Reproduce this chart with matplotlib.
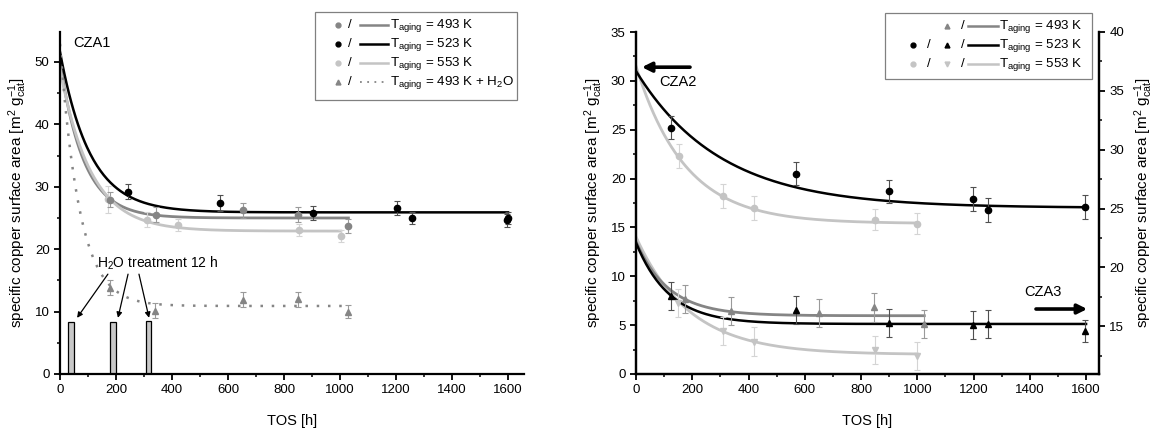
import numpy as np
import matplotlib
matplotlib.use("Agg")
import matplotlib.pyplot as plt
from matplotlib.lines import Line2D
from matplotlib.ticker import MultipleLocator

plt.rcParams['font.family'] = ['Liberation Sans', 'DejaVu Sans']
plt.rcParams['mathtext.fontset'] = 'custom'
plt.rcParams['mathtext.rm'] = 'Liberation Sans'
plt.rcParams['mathtext.it'] = 'Liberation Sans:italic'
plt.rcParams['font.size'] = 9.5

BLACK = 'black'
DARK = '#858585'
LIGHT = '#c4c4c4'
ERR_BLACK = '#505050'
ERR_DARK = '#9a9a9a'
ERR_LIGHT = '#d4d4d4'

# ---- CZA1 (left panel) ----
c1_493_x = [179, 343, 653, 849, 1028]
c1_493_y = [27.9, 25.5, 26.2, 25.5, 23.7]
c1_493_e = [1.2, 1.2, 1.2, 1.2, 1.1]
c1_523_x = [243, 571, 904, 1204, 1257, 1597, 1600]
c1_523_y = [29.2, 27.4, 25.8, 26.6, 25.0, 24.6, 25.0]
c1_523_e = [1.2, 1.3, 1.1, 1.2, 1.0, 1.0, 1.0]
c1_553_x = [172, 310, 422, 854, 1003]
c1_553_y = [28.0, 24.7, 23.9, 23.1, 22.1]
c1_553_e = [2.2, 1.2, 1.0, 1.0, 1.0]
c1_h2o_x = [179, 340, 653, 849, 1028]
c1_h2o_y = [13.8, 10.1, 11.9, 12.0, 10.0]
c1_h2o_e = [1.2, 1.2, 1.2, 1.2, 1.0]
# exponential decay fits: plateau, amplitude, decay time [h], end of fit [h]
c1_fit_493 = (25.0, 25.0, 85, 1030)
c1_fit_523 = (25.9, 25.7, 107, 1600)
c1_fit_553 = (22.9, 26.0, 110, 1003)
c1_fit_h2o = (10.9, 42.0, 70, 1030)
h2o_bar_x = [40, 190, 316]
h2o_bar_h = [8.4, 8.4, 8.5]

# ---- CZA2 (right panel, left axis) ----
c2_523_x = [123, 570, 900, 1199, 1253, 1595]
c2_523_y = [25.2, 20.5, 18.7, 17.9, 16.8, 17.1]
c2_523_e = [1.2, 1.2, 1.2, 1.2, 1.2, 1.2]
c2_553_x = [152, 310, 421, 850, 999]
c2_553_y = [22.3, 18.2, 17.0, 15.8, 15.4]
c2_553_e = [1.2, 1.2, 1.2, 1.1, 1.1]
c2_fit_523 = (17.0, 14.0, 300, 1600)
c2_fit_553 = (15.4, 16.1, 175, 1000)

# ---- CZA3 (right panel, right axis) ----
c3_493_x = [174, 339, 649, 846, 1023]
c3_493_y = [17.3, 16.3, 16.1, 16.6, 15.2]
c3_493_e = [1.2, 1.2, 1.2, 1.2, 1.2]
c3_523_x = [124, 570, 900, 1199, 1253, 1595]
c3_523_y = [17.6, 16.4, 15.3, 15.1, 15.2, 14.6]
c3_523_e = [1.2, 1.2, 1.2, 1.2, 1.2, 0.9]
c3_553_x = [150, 310, 421, 850, 999]
c3_553_y = [17.0, 14.6, 13.7, 13.0, 12.5]
c3_553_e = [1.2, 1.2, 1.2, 1.2, 1.2]
c3_fit_493 = (15.9, 6.3, 116, 1025)
c3_fit_523 = (15.2, 6.9, 118, 1600)
c3_fit_553 = (12.6, 10.0, 190, 1000)


def fit_line(ax, fit, **kw):
    plateau, amp, tau, xend = fit
    t = np.linspace(0, xend, 400)
    ax.plot(t, plateau + amp * np.exp(-t / tau), **kw)


def pts(ax, x, y, e, marker, color, ecolor, ms=4.5):
    ax.errorbar(x, y, yerr=e, fmt=marker, color=color, ecolor=ecolor, ms=ms,
                capsize=2.5, elinewidth=0.8, capthick=0.8, zorder=3)


def style(ax, spines):
    for s in ['left', 'right', 'top', 'bottom']:
        ax.spines[s].set_visible(s in spines)
        ax.spines[s].set_linewidth(1.6)
    ax.tick_params(which='major', direction='out', length=4, width=1.3)
    ax.tick_params(which='minor', direction='out', length=2.5, width=1.1)


W, H = 1154, 430
fig = plt.figure(figsize=(W / 100, H / 100), dpi=100)


def fx(px):
    return px / W


def fy(py):
    return 1 - py / H


ylab = r'specific copper surface area [m$^2$ g$_{\rm cat}^{-1}$]'
LABSIZE = 11

# ---------------- left panel ----------------
ax1 = fig.add_axes([fx(60), fy(374), fx(524) - fx(60), fy(32) - fy(374)])
style(ax1, ['left', 'bottom'])
ax1.set_xlim(0, 1657)
ax1.set_ylim(0, 54.8)
ax1.xaxis.set_major_locator(MultipleLocator(200))
ax1.xaxis.set_minor_locator(MultipleLocator(100))
ax1.yaxis.set_major_locator(MultipleLocator(10))
ax1.yaxis.set_minor_locator(MultipleLocator(5))
ax1.set_xlabel('TOS [h]', fontsize=10.5, labelpad=13)
ax1.set_ylabel(ylab, fontsize=LABSIZE, labelpad=4)

ax1.bar(h2o_bar_x, h2o_bar_h, width=20, color='#c8c8c8', edgecolor='black',
        linewidth=0.9, zorder=2)
fit_line(ax1, c1_fit_493, color=DARK, lw=2)
fit_line(ax1, c1_fit_553, color=LIGHT, lw=2)
fit_line(ax1, c1_fit_523, color=BLACK, lw=1.8)
fit_line(ax1, c1_fit_h2o, color=DARK, lw=1.8, ls=(0, (1, 3.5)))
pts(ax1, c1_553_x, c1_553_y, c1_553_e, 'o', LIGHT, ERR_LIGHT)
pts(ax1, c1_493_x, c1_493_y, c1_493_e, 'o', DARK, ERR_DARK)
pts(ax1, c1_523_x, c1_523_y, c1_523_e, 'o', BLACK, ERR_BLACK)
pts(ax1, c1_h2o_x, c1_h2o_y, c1_h2o_e, '^', DARK, ERR_DARK)

ax1.text(46, 53, 'CZA1', fontsize=10.5, va='center', ha='left')
ax1.text(132, 17.8, r'H$_2$O treatment 12 h', fontsize=10, va='center', ha='left')
for (x0, x1) in [(171, 61), (243, 207), (282, 318)]:
    ax1.annotate('', xy=(x1, 9.0), xytext=(x0, 16.0),
                 arrowprops=dict(arrowstyle='-|>', color='black', lw=0.9,
                                 mutation_scale=8, shrinkA=0, shrinkB=0))

# legend, left panel
rows = [(25, DARK, 'o', '-', r'T$_{\rm aging}$ = 493 K'),
        (44, BLACK, 'o', '-', r'T$_{\rm aging}$ = 523 K'),
        (63, LIGHT, 'o', '-', r'T$_{\rm aging}$ = 553 K'),
        (82, DARK, '^', ':', r'T$_{\rm aging}$ = 493 K + H$_2$O')]
fig.patches.append(plt.Rectangle((fx(315), fy(100)), fx(517) - fx(315), fy(12) - fy(100),
                                 transform=fig.transFigure, fill=False,
                                 edgecolor='#808080', lw=0.9))
for py, col, mk, lstyle, lab in rows:
    fig.add_artist(Line2D([fx(338)], [fy(py)], marker=mk, color=col, ms=3.5, ls='none'))
    fig.text(fx(350), fy(py), '/', fontsize=9.5, va='center', ha='center')
    if lstyle == ':':
        fig.add_artist(Line2D([fx(360), fx(388)], [fy(py), fy(py)], color=DARK, lw=1.3,
                              ls=(0, (1, 3))))
    else:
        fig.add_artist(Line2D([fx(360), fx(388)], [fy(py), fy(py)], color=col, lw=1.8))
    fig.text(fx(390), fy(py + 1), lab, fontsize=9.6, va='center', ha='left')

# ---------------- right panel ----------------
ax2 = fig.add_axes([fx(636), fy(374), fx(1099) - fx(636), fy(32) - fy(374)])
style(ax2, ['left', 'bottom', 'right'])
ax2.set_xlim(0, 1646)
ax2.set_ylim(0, 35)
ax2.xaxis.set_major_locator(MultipleLocator(200))
ax2.xaxis.set_minor_locator(MultipleLocator(100))
ax2.yaxis.set_major_locator(MultipleLocator(5))
ax2.yaxis.set_minor_locator(MultipleLocator(2.5))
ax2.set_xlabel('TOS [h]', fontsize=10.5, labelpad=13)
ax2.set_ylabel(ylab, fontsize=LABSIZE, labelpad=4)

ax3 = ax2.twinx()
style(ax3, ['left', 'bottom', 'right'])
ax3.set_ylim(10.95, 40)
ax3.yaxis.set_major_locator(MultipleLocator(5))
ax3.yaxis.set_minor_locator(MultipleLocator(2.5))
ax3.set_ylabel(ylab, fontsize=LABSIZE, labelpad=6)

fit_line(ax2, c2_fit_553, color=LIGHT, lw=2)
fit_line(ax2, c2_fit_523, color=BLACK, lw=1.8)
pts(ax2, c2_553_x, c2_553_y, c2_553_e, 'o', LIGHT, ERR_LIGHT)
pts(ax2, c2_523_x, c2_523_y, c2_523_e, 'o', BLACK, ERR_BLACK)

fit_line(ax3, c3_fit_553, color=LIGHT, lw=2)
fit_line(ax3, c3_fit_493, color=DARK, lw=2)
fit_line(ax3, c3_fit_523, color=BLACK, lw=1.8)
pts(ax3, c3_553_x, c3_553_y, c3_553_e, 'v', LIGHT, ERR_LIGHT)
pts(ax3, c3_493_x, c3_493_y, c3_493_e, '^', DARK, ERR_DARK)
pts(ax3, c3_523_x, c3_523_y, c3_523_e, '^', BLACK, ERR_BLACK)

ax2.annotate('', xy=(21, 31.4), xytext=(192, 31.4),
             arrowprops=dict(arrowstyle='-|>', color='black', lw=2.6,
                             mutation_scale=14, shrinkA=0, shrinkB=0))
ax2.text(82, 29.9, 'CZA2', fontsize=10.5, va='center', ha='left')
ax2.annotate('', xy=(1604, 6.65), xytext=(1422, 6.65),
             arrowprops=dict(arrowstyle='-|>', color='black', lw=2.6,
                             mutation_scale=14, shrinkA=0, shrinkB=0))
ax2.text(1380, 8.4, 'CZA3', fontsize=10.5, va='center', ha='left')

# legend, right panel
fig.patches.append(plt.Rectangle((fx(885), fy(79)), fx(1092) - fx(885), fy(13) - fy(79),
                                 transform=fig.transFigure, fill=False,
                                 edgecolor='#808080', lw=0.9))
rrows = [(26, None, DARK, '^', r'T$_{\rm aging}$ = 493 K'),
         (45, BLACK, BLACK, '^', r'T$_{\rm aging}$ = 523 K'),
         (64, LIGHT, LIGHT, 'v', r'T$_{\rm aging}$ = 553 K')]
for py, ccol, tcol, tmk, lab in rrows:
    if ccol is not None:
        fig.add_artist(Line2D([fx(913)], [fy(py)], marker='o', color=ccol, ms=3.5, ls='none'))
        fig.text(fx(929), fy(py), '/', fontsize=9.5, va='center', ha='center')
    fig.add_artist(Line2D([fx(947)], [fy(py)], marker=tmk, color=tcol, ms=3.5, ls='none'))
    fig.text(fx(963), fy(py), '/', fontsize=9.5, va='center', ha='center')
    fig.add_artist(Line2D([fx(968), fx(998)], [fy(py), fy(py)], color=tcol, lw=1.8))
    fig.text(fx(999), fy(py + 1), lab, fontsize=9.6, va='center', ha='left')

fig.savefig('out.png', dpi=100)
